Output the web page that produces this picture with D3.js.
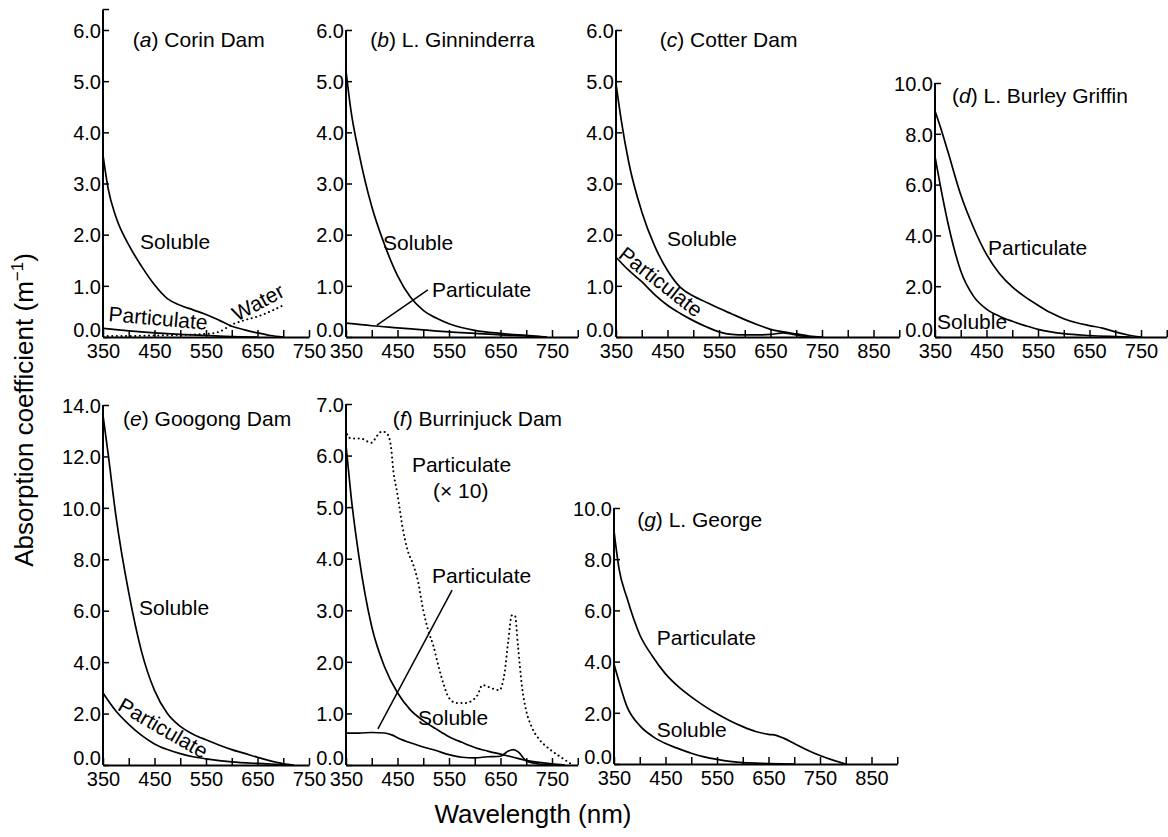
<!DOCTYPE html>
<html>
<head>
<meta charset="utf-8">
<script src="https://cdn.jsdelivr.net/npm/d3@7"></script>
<style>
  body { margin: 0; background: #fff; }
  svg { font-family: "Liberation Sans", Arial, Helvetica, sans-serif; }
  .tick text { font-size: 20px; fill: #000; }
  .lbl { font-size: 21px; fill: #000; }
</style>
</head>
<body>
<div id="chart"></div>
<script>
// Absorption spectra, wavelength (nm) against coefficient (m^-1)
const xTicks = [350, 400, 450, 500, 550, 600, 650, 700, 750, 800, 850, 900];

// (a) Corin Dam
const corinSoluble = [[350,3.55],[360,2.9],[375,2.35],[400,1.8],[425,1.38],[450,1.02],[475,0.75],[500,0.62],[525,0.53],[550,0.44],[575,0.33],[600,0.21],[625,0.14],[650,0.08],[675,0.03],[700,0]];
const corinParticulate = [[350,0.17],[400,0.12],[450,0.08],[500,0.05],[550,0.03],[600,0.01],[650,0]];
const corinWater = [[350,0.02],[400,0.02],[450,0.03],[500,0.04],[550,0.06],[575,0.1],[600,0.24],[625,0.33],[650,0.4],[675,0.5],[700,0.62]];

// (b) L. Ginninderra
const ginSoluble = [[350,5.2],[360,4.4],[375,3.6],[400,2.55],[425,1.8],[450,1.2],[475,0.78],[500,0.52],[525,0.37],[550,0.26],[600,0.13],[650,0.07],[700,0.03],[740,0]];
const ginParticulate = [[350,0.27],[400,0.22],[450,0.18],[500,0.14],[550,0.1],[600,0.07],[650,0.04],[700,0.02],[740,0]];

// (c) Cotter Dam
const cotterSoluble = [[350,4.95],[360,4.25],[375,3.4],[400,2.45],[425,1.78],[450,1.3],[475,0.97],[500,0.8],[525,0.68],[550,0.56],[575,0.45],[600,0.34],[625,0.24],[650,0.15],[675,0.1],[700,0.06],[725,0.02],[750,0]];
const cotterParticulate = [[350,1.56],[375,1.3],[400,1.08],[425,0.83],[450,0.62],[475,0.46],[500,0.32],[525,0.2],[550,0.1],[575,0.05],[600,0.04],[625,0.04],[650,0.05],[675,0.08],[690,0.06],[710,0.02],[730,0]];

// (d) L. Burley Griffin
const burleyParticulate = [[350,8.9],[360,8.3],[375,7.3],[400,5.6],[425,4.3],[450,3.25],[475,2.5],[500,1.97],[525,1.58],[550,1.25],[575,0.95],[600,0.72],[625,0.56],[650,0.45],[675,0.35],[700,0.2],[725,0.08],[750,0]];
const burleySoluble = [[350,7.1],[360,6.0],[375,4.5],[400,2.6],[425,1.6],[450,1.1],[475,0.82],[500,0.62],[525,0.45],[550,0.3],[575,0.2],[600,0.13],[650,0.06],[700,0.02],[730,0]];

// (e) Googong Dam
const googongSoluble = [[350,13.6],[360,12.1],[375,9.7],[400,6.7],[425,4.4],[450,2.9],[475,2.0],[500,1.5],[525,1.2],[550,0.98],[575,0.78],[600,0.6],[625,0.45],[650,0.3],[675,0.16],[700,0.05],[720,0]];
const googongParticulate = [[350,2.8],[375,2.1],[400,1.58],[425,1.15],[450,0.82],[475,0.6],[500,0.44],[525,0.32],[550,0.24],[600,0.12],[650,0.06],[700,0.02],[720,0]];

// (f) Burrinjuck Dam
const burrSoluble = [[350,6.2],[360,5.2],[375,4.05],[400,2.68],[425,1.9],[450,1.4],[475,1.07],[500,0.86],[525,0.7],[550,0.55],[575,0.44],[600,0.34],[625,0.27],[650,0.21],[675,0.15],[700,0.09],[725,0.05],[750,0.02],[775,0]];
const burrParticulate = [[350,0.62],[375,0.62],[400,0.63],[425,0.62],[440,0.58],[450,0.53],[475,0.43],[500,0.35],[525,0.28],[550,0.2],[575,0.15],[600,0.14],[625,0.16],[650,0.17],[665,0.27],[675,0.3],[685,0.25],[700,0.08],[725,0.02],[750,0]];
const burrParticulateX10 = [[350,6.5],[355,6.35],[365,6.33],[380,6.33],[390,6.28],[400,6.25],[410,6.38],[420,6.47],[430,6.42],[437,6.2],[442,5.7],[450,5.25],[460,4.6],[470,4.15],[480,3.9],[490,3.55],[500,3.0],[510,2.6],[520,2.3],[530,1.9],[540,1.55],[550,1.3],[565,1.2],[580,1.2],[595,1.25],[605,1.35],[615,1.55],[625,1.52],[635,1.48],[648,1.45],[658,1.8],[665,2.4],[672,2.9],[678,2.9],[684,2.3],[692,1.5],[700,1.05],[710,0.75],[725,0.5],[740,0.35],[760,0.2],[775,0.1],[790,0]];

// (g) L. George
const georgeParticulate = [[350,9.1],[360,7.6],[375,6.5],[400,5.05],[425,4.2],[450,3.52],[475,3.02],[500,2.62],[525,2.27],[550,1.96],[575,1.69],[600,1.46],[625,1.27],[650,1.16],[665,1.12],[680,1.0],[700,0.8],[725,0.55],[750,0.33],[775,0.15],[800,0]];
const georgeSoluble = [[350,3.9],[360,3.2],[375,2.25],[400,1.5],[425,1.08],[450,0.8],[475,0.6],[500,0.42],[525,0.28],[550,0.18],[575,0.1],[600,0.05],[650,0.02],[700,0]];

const pxPerNm = 0.515;

const panels = [
  { key: 'a', name: 'Corin Dam', left: 103, base: 337, top: 30, yMax: 6, yStep: 1, yExtra: 6.4, xEnd: 750,
    series: [{ d: corinSoluble }, { d: corinParticulate }, { d: corinWater, dotted: true }],
    title: [408, 5.67],
    labels: [{ t: 'Soluble', at: [422, 1.72] },
             { t: 'Particulate', at: [457, 0.37], rot: 5, mid: true },
             { t: 'Water', at: [651, 0.68], rot: -28, mid: true }] },
  { key: 'b', name: 'L. Ginninderra', left: 346, base: 337, top: 30, yMax: 6, yStep: 1, xEnd: 800,
    series: [{ d: ginSoluble }, { d: ginParticulate }],
    title: [397, 5.67],
    labels: [{ t: 'Soluble', at: [422, 1.7] },
             { t: 'Particulate', at: [517, 0.78] }],
    leaders: [[[410, 0.23], [509, 0.92]]] },
  { key: 'c', name: 'Cotter Dam', left: 616, base: 337, top: 30, yMax: 6, yStep: 1, xEnd: 900,
    series: [{ d: cotterSoluble }, { d: cotterParticulate }],
    title: [435, 5.67],
    labels: [{ t: 'Soluble', at: [449, 1.78] },
             { t: 'Particulate', at: [437, 1.08], rot: 38, mid: true }] },
  { key: 'd', name: 'L. Burley Griffin', left: 935, base: 337, top: 83, yMax: 10, yStep: 2, xEnd: 800,
    series: [{ d: burleyParticulate }, { d: burleySoluble }],
    title: [383, 9.21],
    labels: [{ t: 'Particulate', at: [453, 3.23] },
             { t: 'Soluble', at: [354, 0.31] }] },
  { key: 'e', name: 'Googong Dam', left: 103, base: 765, top: 405, yMax: 14, yStep: 2, xEnd: 750,
    series: [{ d: googongSoluble }, { d: googongParticulate }],
    title: [389, 13.19],
    labels: [{ t: 'Soluble', at: [420, 5.83] },
             { t: 'Particulate', at: [467, 1.44], rot: 30, mid: true }] },
  { key: 'f', name: 'Burrinjuck Dam', left: 346, base: 765, top: 404, yMax: 7, yStep: 1, xEnd: 800,
    series: [{ d: burrSoluble }, { d: burrParticulate }, { d: burrParticulateX10, dotted: true }],
    title: [441, 6.57],
    labels: [{ t: 'Particulate', at: [478, 5.68] },
             { t: '(\u00d7 10)', at: [519, 5.18] },
             { t: 'Particulate', at: [517, 3.53] },
             { t: 'Soluble', at: [490, 0.78] }],
    leaders: [[[556, 3.39], [412, 0.70]]] },
  { key: 'g', name: 'L. George', left: 614, base: 764, top: 508, yMax: 10, yStep: 2, xEnd: 900,
    series: [{ d: georgeParticulate }, { d: georgeSoluble }],
    title: [395, 9.26],
    labels: [{ t: 'Particulate', at: [433, 4.65] },
             { t: 'Soluble', at: [433, 1.05] }] }
];

const svg = d3.select('#chart').append('svg')
    .attr('width', 1168)
    .attr('height', 837);

const fmt = d3.format('.1f');

panels.forEach(p => {
  const x = d3.scaleLinear()
      .domain([350, p.xEnd])
      .range([p.left, p.left + (p.xEnd - 350) * pxPerNm]);
  const yTopVal = p.yExtra || p.yMax;
  const y = d3.scaleLinear()
      .domain([0, p.yMax])
      .range([p.base, p.top]);
  const g = svg.append('g');

  // x axis, ticks pointing up into the plot
  const xa = g.append('g')
      .attr('transform', `translate(0,${p.base})`)
      .call(d3.axisBottom(x)
          .tickValues(xTicks.filter(v => v <= p.xEnd))
          .tickFormat(v => (v - 350) % 100 === 0 ? v : '')
          .tickSizeInner(-7)
          .tickSizeOuter(0)
          .tickPadding(5));
  xa.select('.domain').attr('stroke-width', 2);
  xa.selectAll('.tick line').attr('stroke-width', 1.5);
  xa.selectAll('.tick text').attr('dy', '0.8em');

  // y axis, ticks pointing right into the plot
  const yVals = d3.range(0, p.yMax + 1e-9, p.yStep);
  const ya = g.append('g')
      .attr('transform', `translate(${p.left},0)`)
      .call(d3.axisLeft(y)
          .tickValues(yVals)
          .tickFormat(fmt)
          .tickSizeInner(-6)
          .tickSizeOuter(0)
          .tickPadding(2));
  ya.select('.domain').remove();
  ya.selectAll('.tick line').attr('stroke-width', 1.5);
  ya.selectAll('.tick text')
      .attr('dy', v => v === 0 ? '-0.02em' : '0.36em');
  g.append('line')
      .attr('x1', p.left).attr('x2', p.left)
      .attr('y1', p.base).attr('y2', y(yTopVal))
      .attr('stroke', '#000').attr('stroke-width', 2);
  if (p.yExtra) {
    g.append('line')
        .attr('x1', p.left).attr('x2', p.left + 6)
        .attr('y1', y(p.yExtra)).attr('y2', y(p.yExtra))
        .attr('stroke', '#000').attr('stroke-width', 1.5);
  }

  const line = d3.line()
      .x(d => x(d[0]))
      .y(d => y(d[1]))
      .curve(d3.curveMonotoneX);

  p.series.forEach(s => {
    g.append('path')
        .datum(s.d)
        .attr('d', line)
        .attr('fill', 'none')
        .attr('stroke', '#000')
        .attr('stroke-width', s.dotted ? 2 : 1.7)
        .attr('stroke-linecap', s.dotted ? 'round' : 'butt')
        .attr('stroke-dasharray', s.dotted ? '0.1,4.5' : null);
  });

  (p.leaders || []).forEach(l => {
    g.append('line')
        .attr('x1', x(l[0][0])).attr('y1', y(l[0][1]))
        .attr('x2', x(l[1][0])).attr('y2', y(l[1][1]))
        .attr('stroke', '#000').attr('stroke-width', 1.5);
  });

  // panel title, letter in italics
  const tt = g.append('text')
      .attr('class', 'lbl')
      .attr('x', x(p.title[0]))
      .attr('y', y(p.title[1]));
  tt.append('tspan').text('(');
  tt.append('tspan').attr('font-style', 'italic').text(p.key);
  tt.append('tspan').text(') ' + p.name);

  p.labels.forEach(l => {
    const t = g.append('text')
        .attr('class', 'lbl')
        .text(l.t);
    if (l.mid) {
      t.attr('text-anchor', 'middle')
       .attr('dy', '0.35em')
       .attr('transform', `translate(${x(l.at[0])},${y(l.at[1])}) rotate(${l.rot})`);
    } else {
      t.attr('x', x(l.at[0])).attr('y', y(l.at[1]));
    }
  });
});

// shared axis titles
const yt = svg.append('text')
    .attr('transform', 'translate(33,410) rotate(-90)')
    .attr('text-anchor', 'middle')
    .style('font-size', '26px');
yt.append('tspan').text('Absorption coefficient (m');
yt.append('tspan').attr('dy', '-10').style('font-size', '17px').text('\u22121');
yt.append('tspan').attr('dy', '10').text(')');

svg.append('text')
    .attr('x', 533)
    .attr('y', 823)
    .attr('text-anchor', 'middle')
    .style('font-size', '26px')
    .text('Wavelength (nm)');
</script>
</body>
</html>
